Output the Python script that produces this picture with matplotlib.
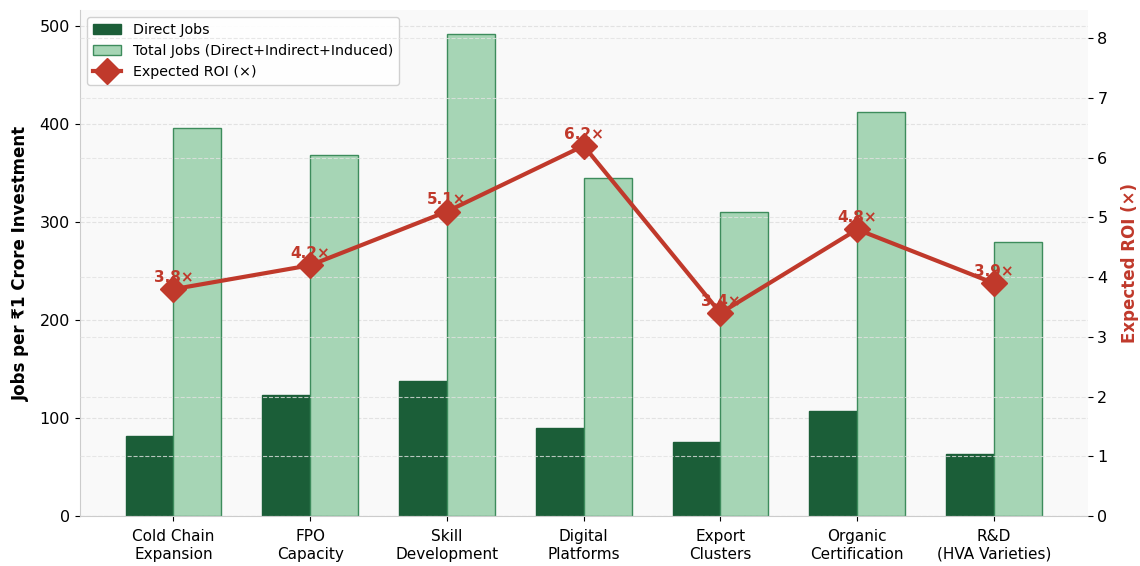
import matplotlib
matplotlib.use("Agg")
import matplotlib.pyplot as plt
import numpy as np

categories = ["Cold Chain\nExpansion", "FPO\nCapacity", "Skill\nDevelopment", "Digital\nPlatforms",
              "Export\nClusters", "Organic\nCertification", "R&D\n(HVA Varieties)"]
direct_jobs = [82, 124, 138, 90, 76, 107, 63]
total_jobs = [396, 368, 492, 345, 310, 412, 280]
roi = [3.8, 4.2, 5.1, 6.2, 3.4, 4.8, 3.9]

dark_green = "#1b5e38"
light_green = "#a6d5b5"
edge_green = "#3d8c5c"
roi_red = "#c0392b"

fig, ax = plt.subplots(figsize=(11.4, 5.66), dpi=100)
fig.patch.set_facecolor("white")
ax.set_facecolor("#f9f9f9")

x = np.arange(len(categories))
w = 0.35
b1 = ax.bar(x - w / 2, direct_jobs, w, color=dark_green, edgecolor=dark_green,
            linewidth=1, label="Direct Jobs", zorder=2)
b2 = ax.bar(x + w / 2, total_jobs, w, color=light_green, edgecolor=edge_green,
            linewidth=1, label="Total Jobs (Direct+Indirect+Induced)", zorder=2)

ax.set_ylim(0, 516)
ax.set_ylabel("Jobs per ₹1 Crore Investment", fontsize=12, fontweight="bold", labelpad=7)
ax.set_xticks(x)
ax.set_xticklabels(categories, fontsize=11)
ax.tick_params(axis="x", pad=6)
ax.tick_params(axis="y", labelsize=11.5)
ax.grid(axis="y", linestyle="--", color="#dddddd", alpha=0.8, zorder=0)
ax.set_axisbelow(True)
for s in ["top", "right"]:
    ax.spines[s].set_visible(False)
ax.spines["left"].set_color("#cccccc")
ax.spines["bottom"].set_color("#cccccc")

ax2 = ax.twinx()
line, = ax2.plot(x, roi, color=roi_red, linewidth=3, marker="D", markersize=13,
                 label="Expected ROI (×)", zorder=5)
for xi, r in zip(x, roi):
    ax2.annotate(f"{r}×", (xi, r), xytext=(0, 3), textcoords="offset points",
                 ha="center", va="bottom", fontsize=11, fontweight="bold", color=roi_red)
ax2.set_ylim(0, 8.47)
ax2.set_ylabel("Expected ROI (×)", fontsize=12, fontweight="bold", color=roi_red, labelpad=10)
ax2.tick_params(axis="y", labelsize=11.5)
ax2.grid(axis="y", linestyle="--", color="#e2e2e2", alpha=0.8)
for s in ["top", "right", "left", "bottom"]:
    ax2.spines[s].set_visible(False)

ax.legend([b1, b2, line], [b1.get_label(), b2.get_label(), line.get_label()],
          loc="upper left", fontsize=10.3, framealpha=0.9)

fig.subplots_adjust(left=0.070, right=0.954, top=0.982, bottom=0.088)
fig.savefig("out.png", dpi=100)
